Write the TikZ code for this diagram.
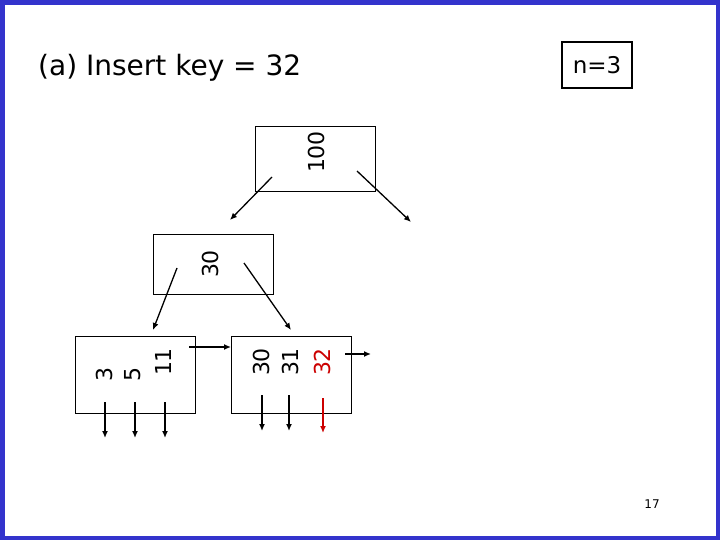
\documentclass[tikz,border=0pt]{standalone}
\usepackage{fontspec}
\setmainfont{DejaVu Sans}
\usetikzlibrary{positioning,arrows.meta}
\definecolor{slideblue}{RGB}{51,51,204}
\definecolor{keyred}{RGB}{204,0,0}
\begin{document}
\begin{tikzpicture}[x=1pt,y=-1pt,
	keybox/.style={draw,line width=1pt,minimum width=120pt,anchor=north west},
	keytext/.style={rotate=90,font=\fontsize{22}{22}\selectfont,inner sep=0pt},
	ptr/.style={-{Latex[length=7pt,width=6pt]},line width=1.3pt}]
	\fill[slideblue] (0,0) rectangle (720,540);
	\fill[white] (5,5) rectangle (716,536);
	\useasboundingbox (0,0) rectangle (720,540);
	\node[font=\fontsize{28}{28}\selectfont,anchor=west,inner sep=0pt] (title) at (38,68) {(a) Insert key = 32};
	\node[draw,line width=2pt,minimum width=70pt,minimum height=46pt,font=\fontsize{23}{23}\selectfont] (nbox) at (597,65) {n=3};
	\node[font=\rmfamily\fontsize{12}{12}\selectfont] (page) at (652,504) {17};
	% boxes
	\node[keybox,minimum height=65pt] (root) at (255,126) {};
	\node[keybox,minimum height=60pt] (inner) at (153,234) {};
	\node[keybox,minimum height=77pt] (leafa) at (75,336) {};
	\node[keybox,minimum height=77pt] (leafb) at (231,336) {};
	% keys
	\node[keytext] (k100) at (316,152) {100};
	\node[keytext] (k30) at (210,264) {30};
	\node[keytext] (k3) at (104,374) {3};
	\node[keytext] (k5) at (133,374) {5};
	\node[keytext] (k11) at (163,362) {11};
	\node[keytext] (l30) at (261,362) {30};
	\node[keytext] (l31) at (290,362) {31};
	\node[keytext,text=keyred] (l32) at (322,362) {32};
	% pointers
	\coordinate (r1) at (272,177); \coordinate (r2) at (357,171);
	\coordinate (r2e) at (411,222);
	\coordinate (i1) at (177,268); \coordinate (i2) at (244,263);
	\coordinate (a1) at (189,347); \coordinate (b1) at (345,354);
	\coordinate (b1e) at (371,354);
	\draw[ptr] (r1) -- (230,220);
	\draw[ptr] (r2) -- (r2e);
	\draw[ptr] (i1) -- (153,330);
	\draw[ptr] (i2) -- (291,330);
	\draw[ptr] (a1) -- (leafb.west |- a1);
	\draw[ptr] (b1) -- (b1e);
	\foreach \x in {105,135,165}
		\draw[ptr] (\x,402) -- (\x,438);
	\foreach \x in {262,289}
		\draw[ptr] (\x,395) -- (\x,431);
	\draw[ptr,keyred] (323,398) -- (323,433);
\end{tikzpicture}
\end{document}
